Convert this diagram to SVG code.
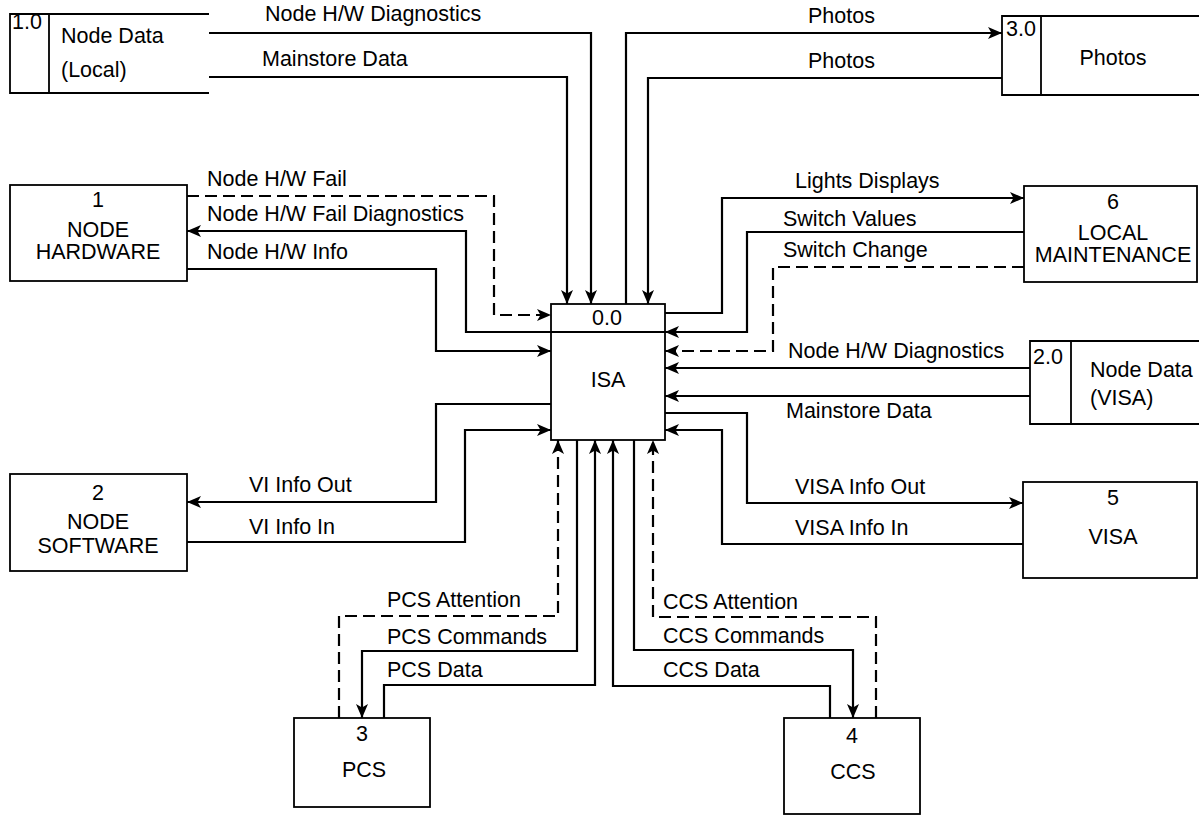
<svg xmlns="http://www.w3.org/2000/svg" width="1200" height="816" viewBox="0 0 1200 816">
<defs>
<style>
.c{fill:none;stroke:#000;stroke-width:2.2;marker-end:url(#ah)}
.d{stroke-dasharray:12 6}
.b{fill:#fff;stroke:#000;stroke-width:1.8}
.l{fill:none;stroke:#000;stroke-width:1.8}
text{font-family:"Liberation Sans",Arial,Helvetica,sans-serif;font-size:21.5px;fill:#000}
.m{text-anchor:middle}
</style>
<marker id="ah" markerWidth="16" markerHeight="14" refX="14" refY="7" orient="auto" markerUnits="userSpaceOnUse">
<path d="M0,1 L14,7 L0,13 L3.5,7 z" fill="#000" stroke="none"/>
</marker>
</defs>
<rect width="1200" height="816" fill="#fff"/>

<g id="connectors">
<path class="c" d="M209,33 H591 V304"/>
<path class="c" d="M209,77 H567 V304"/>
<path class="c" d="M626,304 V33 H1002"/>
<path class="c" d="M1002,78 H648 V304"/>
<path class="c d" d="M187,196 H494 V315 H551"/>
<path class="c" d="M551,332 H466 V231 H187"/>
<path class="c" d="M187,269 H436 V351 H551"/>
<path class="c" d="M551,404 H436 V502 H187"/>
<path class="c" d="M187,542 H465 V430 H551"/>
<path class="c" d="M665,313 H722 V198 H1024"/>
<path class="c" d="M1024,232 H747 V332 H665"/>
<path class="c d" d="M1024,267 H773 V351 H665"/>
<path class="c" d="M1030,368 H665"/>
<path class="c" d="M1030,396 H665"/>
<path class="c" d="M665,413 H747 V503 H1023"/>
<path class="c" d="M1023,544 H722 V430 H665"/>
<path class="c d" d="M339,718 V616 H558 V440"/>
<path class="c" d="M577,440 V651 H362 V718"/>
<path class="c" d="M384,718 V685 H595 V440"/>
<path class="c" d="M830,718 V686 H613 V440"/>
<path class="c" d="M634,440 V650 H853 V718"/>
<path class="c d" d="M876,718 V617 H653 V440"/>
<text x="265" y="21">Node H/W Diagnostics</text>
<text x="262" y="66">Mainstore Data</text>
<text x="808" y="23">Photos</text>
<text x="808" y="68">Photos</text>
<text x="207" y="186">Node H/W Fail</text>
<text x="207" y="221">Node H/W Fail Diagnostics</text>
<text x="207" y="259">Node H/W Info</text>
<text x="249" y="492">VI Info Out</text>
<text x="249" y="534">VI Info In</text>
<text x="795" y="188">Lights Displays</text>
<text x="783" y="226">Switch Values</text>
<text x="783" y="257">Switch Change</text>
<text x="788" y="358">Node H/W Diagnostics</text>
<text x="786" y="418">Mainstore Data</text>
<text x="795" y="494">VISA Info Out</text>
<text x="795" y="535">VISA Info In</text>
<text x="387" y="607">PCS Attention</text>
<text x="387" y="644">PCS Commands</text>
<text x="387" y="677">PCS Data</text>
<text x="663" y="609">CCS Attention</text>
<text x="663" y="643">CCS Commands</text>
<text x="663" y="677">CCS Data</text>
</g>

<g id="isa">
<rect class="b" x="551" y="304" width="114" height="136"/>
<line class="l" x1="551" y1="332" x2="665" y2="332"/>
<text class="m" x="607" y="325">0.0</text>
<text class="m" x="608" y="387">ISA</text>
</g>

<g id="store-1-0">
<path class="l" d="M209,14 H10 V93 H209 M49,14 V93"/>
<text x="12" y="29">1.0</text>
<text x="61" y="43">Node Data</text>
<text x="61" y="77">(Local)</text>
</g>

<g id="store-3-0">
<path class="l" d="M1199,16 H1002 V95 H1199 M1041,16 V95"/>
<text x="1006" y="36">3.0</text>
<text class="m" x="1113" y="65">Photos</text>
</g>

<g id="store-2-0">
<path class="l" d="M1199,341 H1030 V424 H1199 M1071,341 V424"/>
<text x="1033" y="364">2.0</text>
<text x="1090" y="377">Node Data</text>
<text x="1090" y="405">(VISA)</text>
</g>

<g id="node-hardware">
<rect class="b" x="10" y="185" width="177" height="96"/>
<text class="m" x="98" y="207">1</text>
<text class="m" x="98" y="237">NODE</text>
<text class="m" x="98" y="259">HARDWARE</text>
</g>

<g id="node-software">
<rect class="b" x="10" y="474" width="177" height="97"/>
<text class="m" x="98" y="500">2</text>
<text class="m" x="98" y="529">NODE</text>
<text class="m" x="98" y="553">SOFTWARE</text>
</g>

<g id="local-maintenance">
<rect class="b" x="1024" y="186" width="173" height="96"/>
<text class="m" x="1113" y="209">6</text>
<text class="m" x="1113" y="240">LOCAL</text>
<text class="m" x="1113" y="262">MAINTENANCE</text>
</g>

<g id="visa">
<rect class="b" x="1023" y="482" width="174" height="96"/>
<text class="m" x="1113" y="505">5</text>
<text class="m" x="1113" y="544">VISA</text>
</g>

<g id="pcs">
<rect class="b" x="294" y="718" width="136" height="89"/>
<text class="m" x="362" y="741">3</text>
<text class="m" x="364" y="777">PCS</text>
</g>

<g id="ccs">
<rect class="b" x="784" y="718" width="136" height="96"/>
<text class="m" x="852" y="743">4</text>
<text class="m" x="853" y="779">CCS</text>
</g>
</svg>
